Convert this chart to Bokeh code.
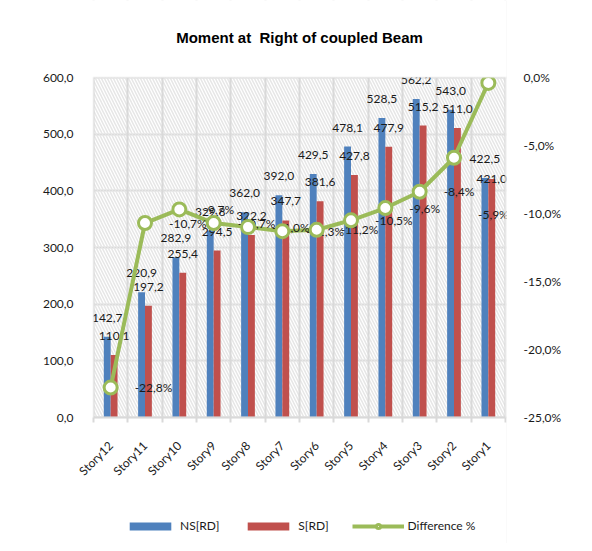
from bokeh.plotting import figure
from bokeh.models import (ColumnDataSource, Range1d, LinearAxis, FixedTicker, BoxAnnotation,
                          Legend, LegendItem, Grid, Label)
from bokeh.transform import dodge
from bokeh.core.properties import value
from bokeh.embed import file_html
from bokeh.resources import INLINE

# ---- data ----
stories = ["Story12", "Story11", "Story10", "Story9", "Story8", "Story7",
           "Story6", "Story5", "Story4", "Story3", "Story2", "Story1"]
ns_rd = [142.7, 220.9, 282.9, 329.8, 362.0, 392.0, 429.5, 478.1, 528.5, 562.2, 543.0, 422.5]
s_rd = [110.1, 197.2, 255.4, 294.5, 322.2, 347.7, 381.6, 427.8, 477.9, 515.2, 511.0, 421.0]
diff_pct = [-22.8, -10.7, -9.7, -10.7, -11.0, -11.3, -11.2, -10.5, -9.6, -8.4, -5.9, -0.4]
left_ticks = [0, 100, 200, 300, 400, 500, 600]
right_ticks = [-25, -20, -15, -10, -5, 0]
title_text = "Moment at \u00a0Right of coupled Beam"

# label nudges (screen px, downward) for a few labels moved in the original
s_label_nudge = {"Story1": 19}
diff_label_nudge = {"Story2": 57}

BLUE = "#4f81bd"
RED = "#c0504d"
GREEN = "#9bbb59"
GRID = "#d9d9d9"
FONT = "Lato"
TXT = "#1a1a1a"

def fmt(v):
    return f"{v:.1f}".replace(".", ",")

n = len(stories)
xs = list(range(1, n + 1))
src = ColumnDataSource(dict(
    x=xs, story=stories, ns=ns_rd, s=s_rd, diff=diff_pct,
    ns_lbl=[fmt(v) for v in ns_rd],
    s_lbl=[fmt(v) for v in s_rd],
    diff_lbl=[fmt(v) + "%" for v in diff_pct],
    s_dy=[-19 + s_label_nudge.get(st, 0) for st in stories],
    d_dy=[diff_label_nudge.get(st, 0) for st in stories],
))

# ---- layout (pixels) ----
W, H = 584, 543
PLOT_TOP, PLOT_BOTTOM = 77, 417          # pixel rows of the 600 and 0 gridlines
PLOT_L, PLOT_R = 93, 505                 # pixel columns of the plot-area edges
FRAME_L, FRAME_R = 74, 506
ph = PLOT_BOTTOM - PLOT_TOP
pxu = (PLOT_R - PLOT_L) / n
ymax, pmin = max(left_ticks), min(right_ticks)
y_lo = -ymax * (H - PLOT_BOTTOM) / ph
y_hi = ymax + ymax * PLOT_TOP / ph
p_lo = pmin + pmin * (H - PLOT_BOTTOM) / ph
p_hi = -pmin * PLOT_TOP / ph
x_lo = 0.5 - (PLOT_L - FRAME_L) / pxu
x_hi = n + 0.5 + (FRAME_R - PLOT_R) / pxu

p = figure(width=W, height=H, output_backend="svg", toolbar_location=None,
           x_range=Range1d(x_lo, x_hi), y_range=Range1d(y_lo, y_hi),
           min_border_left=FRAME_L, min_border_right=W - FRAME_R,
           min_border_top=0, min_border_bottom=0)
p.outline_line_color = None
p.extra_y_ranges = {"pct": Range1d(p_lo, p_hi)}

# background hatch of plot area
p.add_layout(BoxAnnotation(bottom=0, top=ymax, left=0.5, right=n + 0.5, fill_alpha=0,
                           line_alpha=0, hatch_pattern="\\", hatch_color="#e6e6e6",
                           hatch_scale=6, hatch_weight=1.5, level="underlay"))

# grids
p.xgrid.visible = False
p.ygrid.ticker = FixedTicker(ticks=left_ticks)
p.ygrid.grid_line_color = GRID
p.ygrid.grid_line_width = 2
bounds = [k + 0.5 for k in range(n + 1)]
p.add_layout(Grid(dimension=0, ticker=FixedTicker(ticks=bounds),
                  grid_line_color=GRID, grid_line_width=2))

# white masks outside the plot area (hide grid lines there)
for kw in (dict(top=0), dict(bottom=ymax), dict(right=0.5), dict(left=n + 0.5)):
    p.add_layout(BoxAnnotation(fill_color="white", fill_alpha=1, line_alpha=0,
                               level="glyph", **kw))
p.add_layout(BoxAnnotation(bottom=0, top=ymax, left=0.5, right=n + 0.5, fill_alpha=0,
                           line_color=GRID, line_width=2, level="glyph"))

# bars
b1 = p.vbar(x=dodge("x", -0.1), top="ns", width=0.2, source=src, color=BLUE, line_color=None)
b2 = p.vbar(x=dodge("x", 0.1), top="s", width=0.2, source=src, color=RED, line_color=None)

# bar labels
p.text(x=dodge("x", -0.1), y="ns", text="ns_lbl", source=src, text_align="center",
       text_baseline="middle", y_offset=-19, text_font=value(FONT), text_font_size="12px",
       text_color=TXT)
p.text(x=dodge("x", 0.1), y="s", text="s_lbl", source=src, text_align="center",
       text_baseline="middle", y_offset="s_dy", text_font=value(FONT), text_font_size="12px",
       text_color=TXT)

# difference line
ln = p.line(x="x", y="diff", source=src, y_range_name="pct", line_color=GREEN, line_width=4)
p.text(x="x", y="diff", text="diff_lbl", source=src, y_range_name="pct", text_align="left",
       text_baseline="middle", x_offset=24, y_offset="d_dy", text_font=value(FONT),
       text_font_size="12px", text_color=TXT)
mk = p.scatter(x="x", y="diff", source=src, y_range_name="pct", size=13, marker="circle",
               fill_color="white", line_color=GREEN, line_width=3)

# title (40 px above the top gridline, centred over the categories)
p.add_layout(Label(x=(n + 1) / 2, y=ymax + ymax * 40 / ph, text=title_text,
                   text_align="center", text_baseline="middle", text_font="Liberation Sans",
                   text_font_size="15px", text_font_style="bold", text_color="black"))

# axes
xa = p.xaxis[0]
xa.fixed_location = 0
xa.bounds = (0.5, n + 0.5)
xa.ticker = FixedTicker(ticks=xs, minor_ticks=bounds)
xa.major_label_overrides = {x: st for x, st in zip(xs, stories)}
xa.major_label_orientation = 0.785
xa.major_tick_line_color = None
xa.minor_tick_line_color = GRID
xa.minor_tick_line_width = 2
xa.minor_tick_in = 0
xa.minor_tick_out = 5
xa.axis_line_color = GRID
xa.axis_line_width = 2
xa.major_label_standoff = 20
xa.major_label_text_font = FONT
xa.major_label_text_font_size = "12px"
xa.major_label_text_color = TXT

ya = p.yaxis[0]
ya.ticker = FixedTicker(ticks=left_ticks)
ya.major_label_overrides = {t: fmt(t) for t in left_ticks}
ya.axis_line_color = None
ya.major_tick_line_color = None
ya.minor_tick_line_color = None
ya.major_tick_out = 0
ya.major_tick_in = 0
ya.major_label_standoff = 1
ya.major_label_text_font = FONT
ya.major_label_text_font_size = "12px"
ya.major_label_text_color = TXT

ra = LinearAxis(y_range_name="pct", ticker=FixedTicker(ticks=right_ticks))
ra.major_label_overrides = {t: fmt(t) + "%" for t in right_ticks}
ra.axis_line_color = None
ra.major_tick_line_color = None
ra.minor_tick_line_color = None
ra.major_tick_out = 0
ra.major_tick_in = 0
ra.major_label_standoff = 17
ra.major_label_text_font = FONT
ra.major_label_text_font_size = "12px"
ra.major_label_text_color = TXT
p.add_layout(ra, "right")

legend = Legend(items=[LegendItem(label="NS[RD]", renderers=[b1]),
                       LegendItem(label="S[RD]", renderers=[b2]),
                       LegendItem(label="Difference %", renderers=[ln, mk])],
                orientation="horizontal", location=(50, 10),
                glyph_width=52, glyph_height=10, label_standoff=4, spacing=23,
                label_text_font=FONT, label_text_font_size="12px", label_text_color=TXT,
                border_line_color=None, background_fill_alpha=0, margin=0, padding=0)
p.add_layout(legend, "center")

open("out.html", "w").write(file_html(p, INLINE))
